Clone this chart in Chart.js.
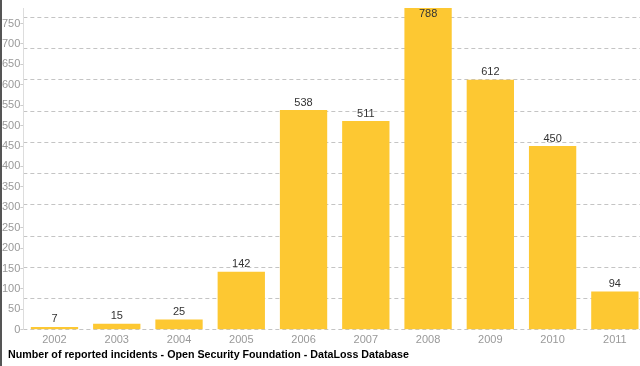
<!DOCTYPE html>
<html>
<head>
<meta charset="utf-8">
<script src="https://cdn.jsdelivr.net/npm/chart.js@4/dist/chart.umd.min.js"></script>
<style>
  html, body { margin: 0; padding: 0; background: #fff; overflow: hidden; }
  body { width: 640px; height: 366px; position: relative; }
  #frame { position: absolute; left: 0; top: 0; width: 2px; height: 366px; background: #555; }
  #wrap { position: absolute; left: 0; top: 0; width: 648px; height: 351px; }
  #caption {
    position: absolute; left: 8px; top: 348px;
    font: bold 10.7px "Liberation Sans", Arial, sans-serif; color: #000;
  }
</style>
</head>
<body>
<div id="wrap"><canvas id="chart"></canvas></div>
<div id="frame"></div>
<div id="caption">Number of reported incidents - Open Security Foundation - DataLoss Database</div>
<script>
const years = ['2002', '2003', '2004', '2005', '2006', '2007', '2008', '2009', '2010', '2011'];
const incidents = [7, 15, 25, 142, 538, 511, 788, 612, 450, 94];
const yMax = 788;
const tickStep = 50;
const gridStep = 76.5;
const gridCount = 10;

const barColor = 'rgb(253, 200, 50)';

// value labels above each bar
const valueLabels = {
  id: 'valueLabels',
  afterDatasetsDraw(chart) {
    const ctx = chart.ctx;
    const meta = chart.getDatasetMeta(0);
    ctx.save();
    ctx.font = '11px "Liberation Sans", Arial, sans-serif';
    ctx.fillStyle = '#333';
    ctx.textAlign = 'center';
    ctx.textBaseline = 'bottom';
    meta.data.forEach((bar, i) => {
      let y = bar.y - 2;
      if (y - 11 < chart.chartArea.top) {
        y = bar.y + 11;
      }
      ctx.fillText(incidents[i], bar.x, y);
    });
    ctx.restore();
  }
};

new Chart(document.getElementById('chart'), {
  type: 'bar',
  data: {
    labels: years,
    datasets: [{
      data: incidents,
      backgroundColor: barColor,
      borderWidth: 0,
      barPercentage: 0.76,
      categoryPercentage: 1
    }]
  },
  options: {
    responsive: true,
    maintainAspectRatio: false,
    animation: false,
    layout: { padding: { top: 8, left: 2, right: 2, bottom: 0 } },
    plugins: {
      legend: { display: false },
      tooltip: { enabled: false }
    },
    scales: {
      x: {
        grid: { display: false, drawTicks: false },
        border: { display: false },
        ticks: {
          color: '#999',
          padding: 4,
          font: { family: '"Liberation Sans", Arial, sans-serif', size: 11 }
        }
      },
      y: {
        min: 0,
        max: yMax,
        position: 'left',
        afterBuildTicks(scale) {
          scale.ticks = scale.ticks.filter(t => t.value % tickStep === 0);
        },
        grid: { drawOnChartArea: false, tickLength: 3, color: '#ccc' },
        border: { color: '#ddd' },
        ticks: {
          stepSize: tickStep,
          padding: 0,
          color: '#999',
          font: { family: '"Liberation Sans", Arial, sans-serif', size: 11 }
        }
      },
      y2: {
        min: 0,
        max: yMax,
        position: 'right',
        afterBuildTicks(scale) {
          const ticks = [];
          for (let i = 0; i <= gridCount; i++) ticks.push({ value: i * gridStep });
          scale.ticks = ticks;
        },
        grid: { color: '#c4c4c4', drawTicks: false },
        border: { display: false, dash: [4, 3] },
        ticks: { display: false }
      }
    }
  },
  plugins: [valueLabels]
});
</script>
</body>
</html>
